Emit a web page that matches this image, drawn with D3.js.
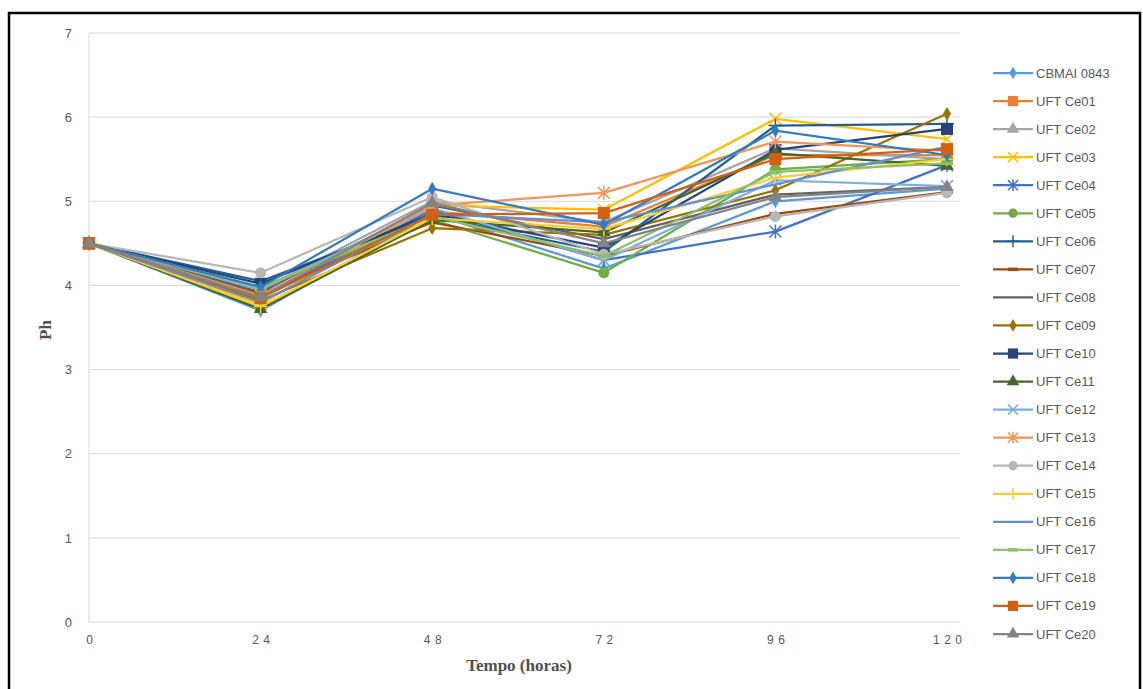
<!DOCTYPE html>
<html>
<head>
<meta charset="utf-8">
<script src="https://cdn.jsdelivr.net/npm/d3@7"></script>
<style>
  html, body { margin: 0; padding: 0; background: #fff; }
  svg { display: block; }
</style>
</head>
<body>
<svg id="chart" width="1143" height="689"></svg>
<script>
// Time points (hours) on the category axis
const hours = [0, 24, 48, 72, 96, 120];
const yTicks = [0, 1, 2, 3, 4, 5, 6, 7];

// Strain names, colours and marker shapes
const strains = ["CBMAI 0843", "UFT Ce01", "UFT Ce02", "UFT Ce03", "UFT Ce04", "UFT Ce05", "UFT Ce06",
  "UFT Ce07", "UFT Ce08", "UFT Ce09", "UFT Ce10", "UFT Ce11", "UFT Ce12", "UFT Ce13", "UFT Ce14",
  "UFT Ce15", "UFT Ce16", "UFT Ce17", "UFT Ce18", "UFT Ce19", "UFT Ce20"];
const colors = ["#5B9BD5", "#ED7D31", "#A5A5A5", "#FFC000", "#4472C4", "#70AD47", "#255E91",
  "#9E480E", "#636363", "#997300", "#264478", "#43682B", "#7CAFDD", "#F1975A", "#B7B7B7",
  "#FFCD33", "#698ED0", "#8CC168", "#327DC2", "#D26012", "#848484"];
const markers = ["diamond", "square", "triangle", "x", "star", "circle", "plus",
  "dash", "none", "diamond", "square", "triangle", "x", "star", "circle",
  "plus", "none", "dash", "diamond", "square", "triangle"];

// pH readings per strain, one value per time point
const cbmai0843 = [4.5, 3.70, 4.85, 4.20, 5.00, 5.15];
const ce01 = [4.5, 3.88, 4.88, 4.70, 5.55, 5.55];
const ce02 = [4.5, 3.95, 5.00, 4.75, 5.63, 5.50];
const ce03 = [4.5, 3.78, 4.95, 4.90, 5.98, 5.74];
const ce04 = [4.5, 3.85, 4.90, 4.30, 4.64, 5.43];
const ce05 = [4.5, 3.98, 4.78, 4.15, 5.38, 5.50];
const ce06 = [4.5, 4.05, 4.82, 4.40, 5.90, 5.92];
const ce07 = [4.5, 3.90, 4.75, 4.35, 4.85, 5.11];
const ce08 = [4.5, 3.92, 4.95, 4.55, 5.08, 5.17];
const ce09 = [4.5, 3.82, 4.68, 4.60, 5.13, 6.04];
const ce10 = [4.5, 4.02, 4.85, 4.45, 5.61, 5.86];
const ce11 = [4.5, 3.72, 4.78, 4.63, 5.57, 5.42];
const ce12 = [4.5, 3.95, 4.92, 4.30, 5.25, 5.18];
const ce13 = [4.5, 3.88, 4.95, 5.10, 5.71, 5.60];
const ce14 = [4.5, 4.15, 5.05, 4.37, 4.82, 5.10];
const ce15 = [4.5, 3.75, 4.80, 4.67, 5.28, 5.50];
const ce16 = [4.5, 3.80, 4.85, 4.75, 5.20, 5.65];
const ce17 = [4.5, 3.97, 4.82, 4.35, 5.35, 5.45];
const ce18 = [4.5, 3.98, 5.15, 4.72, 5.84, 5.55];
const ce19 = [4.5, 3.85, 4.84, 4.86, 5.50, 5.62];
const ce20 = [4.5, 3.86, 4.98, 4.50, 5.05, 5.17];

const values = [cbmai0843, ce01, ce02, ce03, ce04, ce05, ce06, ce07, ce08, ce09, ce10,
  ce11, ce12, ce13, ce14, ce15, ce16, ce17, ce18, ce19, ce20];

const series = strains.map((name, i) => ({
  name, color: colors[i], marker: markers[i],
  points: hours.map((h, j) => ({ h, v: values[i][j] }))
}));

const svg = d3.select("#chart");

// outer frame
svg.append("rect")
  .attr("x", 9).attr("y", 13).attr("width", 1131).attr("height", 700)
  .attr("fill", "none").attr("stroke", "#000").attr("stroke-width", 2.5);

const plot = { left: 89, right: 960, top: 33, bottom: 622 };
const x = d3.scalePoint().domain(hours).range([plot.left, 947]);
const y = d3.scaleLinear().domain([0, 7]).range([plot.bottom, plot.top]);

// horizontal gridlines
svg.append("g")
  .selectAll("line").data(yTicks).join("line")
  .attr("x1", plot.left).attr("x2", plot.right)
  .attr("y1", d => y(d)).attr("y2", d => y(d))
  .attr("stroke", "#d9d9d9").attr("stroke-width", 1);

// left vertical border of the plot area
svg.append("line")
  .attr("x1", plot.left).attr("x2", plot.left)
  .attr("y1", y(7)).attr("y2", y(0))
  .attr("stroke", "#d9d9d9").attr("stroke-width", 1);

// y axis labels
const yAxis = d3.axisLeft(y).tickValues(yTicks).tickSize(0).tickPadding(17).tickFormat(d3.format("d"));
const gy = svg.append("g").attr("transform", `translate(${plot.left},0)`).call(yAxis);
gy.select(".domain").remove();
gy.selectAll("text").attr("font-family", "Liberation Sans, Arial, sans-serif")
  .attr("font-size", 13).attr("fill", "#595959");

// x axis labels with widely spaced digits
const spacing = 4.5;
const xAxis = d3.axisBottom(x).tickSize(0).tickPadding(13).tickFormat(d3.format("d"));
const gx = svg.append("g").attr("transform", `translate(0,${plot.bottom})`).call(xAxis);
gx.select(".domain").remove();
gx.selectAll("text").attr("font-family", "Liberation Sans Narrow, Liberation Sans, Arial, sans-serif")
  .attr("font-size", 12).attr("fill", "#595959")
  .attr("letter-spacing", spacing).attr("dx", spacing / 2);

// axis titles
svg.append("text")
  .attr("x", 519).attr("y", 671).attr("text-anchor", "middle")
  .attr("font-family", "Liberation Serif, Times New Roman, serif")
  .attr("font-weight", "bold").attr("font-size", 17).attr("fill", "#505050")
  .text("Tempo (horas)");
svg.append("text")
  .attr("transform", "translate(51,330) rotate(-90)").attr("text-anchor", "middle")
  .attr("font-family", "Liberation Serif, Times New Roman, serif")
  .attr("font-weight", "bold").attr("font-size", 17).attr("fill", "#505050")
  .text("Ph");

// marker drawing helper
function drawMarker(g, type, color, cx, cy, scale) {
  const s = scale || 1;
  switch (type) {
    case "diamond":
      g.append("path").attr("d", d3.symbol(d3.symbolDiamond, 55 * s)())
        .attr("transform", `translate(${cx},${cy})`).attr("fill", color);
      break;
    case "square":
      g.append("rect").attr("x", cx - 6 * s).attr("y", cy - 6 * s)
        .attr("width", 12 * s).attr("height", 12 * s).attr("fill", color);
      break;
    case "triangle":
      g.append("path").attr("d", d3.symbol(d3.symbolTriangle, 80 * s)())
        .attr("transform", `translate(${cx},${cy})`).attr("fill", color);
      break;
    case "circle":
      g.append("circle").attr("cx", cx).attr("cy", cy).attr("r", 5.5 * s).attr("fill", color);
      break;
    case "x":
      g.append("path").attr("d", `M${cx - 6 * s},${cy - 6 * s}L${cx + 6 * s},${cy + 6 * s}M${cx - 6 * s},${cy + 6 * s}L${cx + 6 * s},${cy - 6 * s}`)
        .attr("stroke", color).attr("stroke-width", 1.5).attr("fill", "none");
      break;
    case "star":
      g.append("path").attr("d", `M${cx - 6 * s},${cy - 6 * s}L${cx + 6 * s},${cy + 6 * s}M${cx - 6 * s},${cy + 6 * s}L${cx + 6 * s},${cy - 6 * s}M${cx},${cy - 7 * s}L${cx},${cy + 7 * s}`)
        .attr("stroke", color).attr("stroke-width", 1.5).attr("fill", "none");
      break;
    case "plus":
      g.append("path").attr("d", `M${cx},${cy - 7 * s}L${cx},${cy + 7 * s}M${cx - 7 * s},${cy}L${cx + 7 * s},${cy}`)
        .attr("stroke", color).attr("stroke-width", 1.5).attr("fill", "none");
      break;
    case "dash":
      g.append("path").attr("d", `M${cx - 6 * s},${cy}L${cx + 6 * s},${cy}`)
        .attr("stroke", color).attr("stroke-width", 3.5).attr("fill", "none");
      break;
    default:
      break;
  }
}

// series lines and markers
const line = d3.line().x(d => x(d.h)).y(d => y(d.v));
const gSeries = svg.append("g");
series.forEach(s => {
  const g = gSeries.append("g");
  g.append("path").datum(s.points).attr("d", line)
    .attr("fill", "none").attr("stroke", s.color).attr("stroke-width", 2.25)
    .attr("stroke-linejoin", "round");
  s.points.forEach(p => drawMarker(g, s.marker, s.color, x(p.h), y(p.v), 1));
});

// legend
const legend = svg.append("g");
series.forEach((s, i) => {
  const ly = 73 + i * 28.05;
  const g = legend.append("g");
  g.append("line").attr("x1", 993).attr("x2", 1033).attr("y1", ly).attr("y2", ly)
    .attr("stroke", s.color).attr("stroke-width", 2.25);
  drawMarker(g, s.marker, s.color, 1013, ly, 0.85);
  g.append("text").attr("x", 1036).attr("y", ly + 4.5)
    .attr("font-family", "Liberation Sans, Arial, sans-serif").attr("font-size", 13)
    .attr("fill", "#595959").text(s.name);
});
</script>
</body>
</html>
